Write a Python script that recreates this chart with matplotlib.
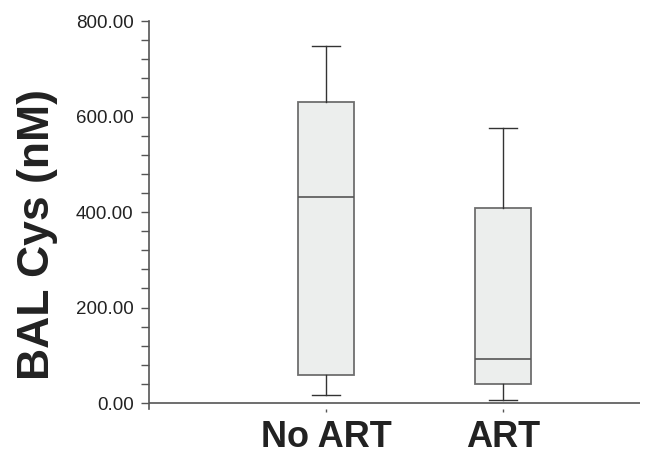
import matplotlib
matplotlib.use("Agg")
import matplotlib.pyplot as plt
from matplotlib.ticker import MultipleLocator, FormatStrFormatter

plt.rcParams['font.family'] = ['Liberation Sans', 'DejaVu Sans']

# valores (nM)
groups = ["No ART", "ART"]
whisker_low = [17, 7]
q1 = [58, 40]
median = [431, 92]
q3 = [630, 409]
whisker_high = [748, 576]

fig = plt.figure(figsize=(6.45, 4.54), dpi=100)
ax = fig.add_axes([149 / 645, 45 / 454, 491 / 645, 388 / 454])

stats = []
for i in range(len(groups)):
    stats.append({
        "label": groups[i],
        "whislo": whisker_low[i],
        "q1": q1[i],
        "med": median[i],
        "q3": q3[i],
        "whishi": whisker_high[i],
        "fliers": [],
    })

ax.bxp(stats, positions=[1, 2], widths=0.322, patch_artist=True, showfliers=False,
       boxprops=dict(facecolor="#eceeed", edgecolor="#6e6e6e", linewidth=1.3),
       medianprops=dict(color="#555555", linewidth=1.2),
       whiskerprops=dict(color="#333333", linewidth=1.0),
       capprops=dict(color="#333333", linewidth=1.0),
       capwidths=0.16)

ax.set_xlim(0, 2.774)

# eje x en y=0
ax.axhline(0, color="#555555", linewidth=1.2, zorder=0)
for s in ["top", "right", "bottom"]:
    ax.spines[s].set_visible(False)
ax.spines["left"].set_color("#555555")
ax.spines["left"].set_linewidth(1.2)

ax.yaxis.set_major_locator(MultipleLocator(200))
ax.yaxis.set_minor_locator(MultipleLocator(40))
ax.yaxis.set_major_formatter(FormatStrFormatter("%.2f"))
ax.set_ylim(-12.5, 800)
ax.tick_params(axis="y", which="both", length=6, width=1.0, color="#555555",
               labelsize=13.5, labelcolor="#222222", pad=5)
ax.tick_params(axis="x", length=2, width=1.0, color="#555555",
               labelsize=26, labelcolor="#222222", pad=6)
for lab in ax.get_xticklabels():
    lab.set_fontweight("bold")

ax.set_ylabel("BAL Cys (nM)", fontsize=32, fontweight="bold", color="#222222")
ax.yaxis.set_label_coords(-0.186, 0.45)

fig.savefig("out.png", dpi=100)
